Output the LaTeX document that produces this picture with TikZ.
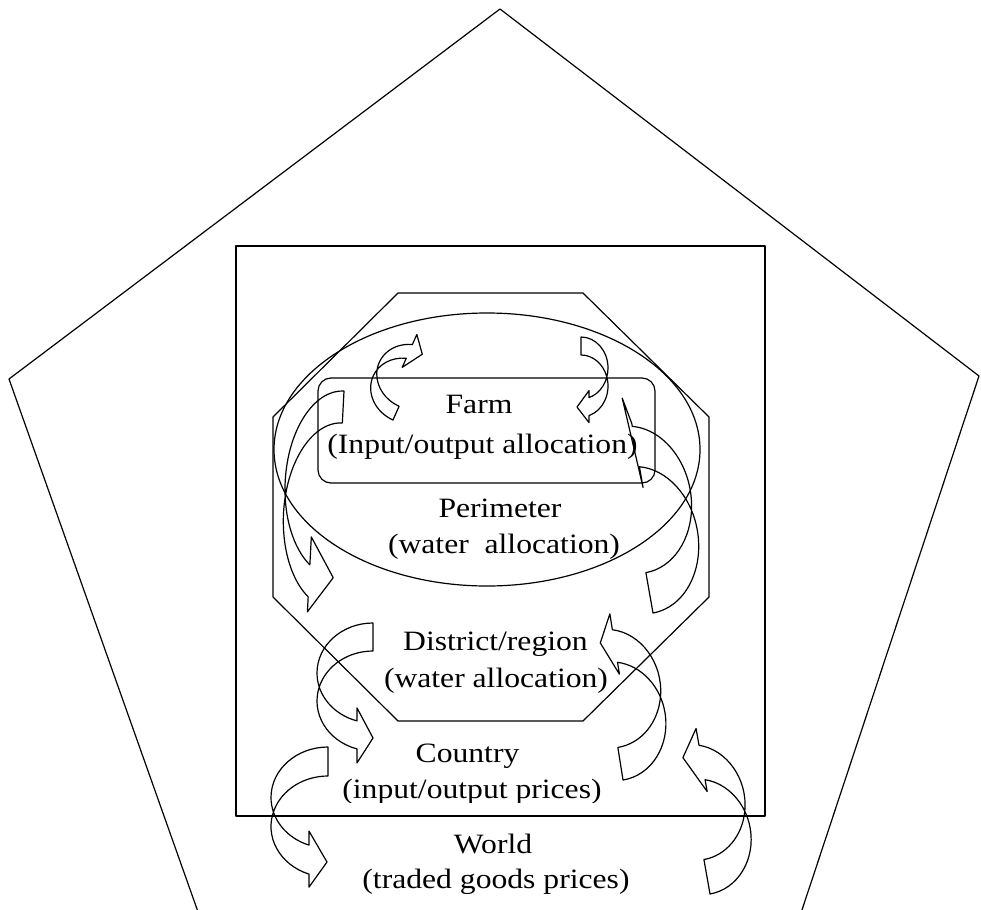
\documentclass[tikz,border=0pt]{standalone}
\usepackage{fontspec}
\setmainfont{Liberation Serif}[FakeStretch=1.13]
\usepackage{tikz}

%% curved block arrow: tail at (0,0), bulging to the left, head at the bottom
%% #1,#2 radii, #3 band, #4 head length, #5,#6 barbs, (#7,#8) tip
\newcommand{\bentarrow}[8]{%
  \pgfmathsetmacro\baend{acos(-#4/#1)-360}
  \pgfmathsetmacro\babase{#2+#2*sin(\baend)}
  \draw (0,0) arc[start angle=-90, end angle=\baend, x radius=#1, y radius=#2]
    -- ({-#4},{\babase-#5}) -- (#7,#8) -- ({-#4},{\babase+#3+#6})
    -- ({-#4},{\babase+#3})
    arc[start angle=\baend, end angle=-90, x radius=#1, y radius=#2] -- cycle;
}

\begin{document}
\begin{tikzpicture}[x=1pt, y=1pt, yscale=-1, line width=1.2pt, line join=round]
  \tikzset{lbl/.style={anchor=base, inner sep=0pt, font=\fontsize{28}{36}\selectfont}}

  \useasboundingbox (0,0) rectangle (981,909);
  \clip (0,0) rectangle (981,909);

  \draw (500,9) -- (9,379) -- (208,940) -- (792,940) -- (979,376) -- cycle; %% world
  \draw (236,246) rectangle (765,816); %% country
  \draw (398,293) -- (583,293) -- (709,417) -- (709,597) -- (583,721)
        -- (398,721) -- (273,597) -- (273,417) -- cycle; %% district
  \draw (487,449.5) ellipse[x radius=213, y radius=136.5]; %% perimeter
  \draw[rounded corners=13pt] (318,378) rectangle (655,483); %% farm

  \begin{scope}[shift={(393,420)}, rotate=24, yscale=-1]
    \bentarrow{36}{32}{15}{13}{10}{11}{0}{72} %% farm, left
  \end{scope}
  \begin{scope}[shift={(581,337)}, xscale=-1]
    \bentarrow{27}{31}{18}{8}{7}{7}{4}{70} %% farm, right
  \end{scope}
  \begin{scope}[shift={(344,391)}, rotate=3]
    \bentarrow{54}{93}{32}{25}{28}{15}{-1}{187} %% perimeter -> district
  \end{scope}
  \begin{scope}[shift={(653,613)}, rotate=170]
    \bentarrow{58}{74}{41}{12}{21}{3}{-7}{217} %% district -> perimeter
  \end{scope}
  \begin{scope}[shift={(373,623)}]
    \bentarrow{56}{50}{28}{16}{13}{14}{0}{115} %% district -> country
  \end{scope}
  \begin{scope}[shift={(623,780)}, rotate=171]
    \bentarrow{52}{59.5}{33}{13}{12}{16}{1}{139} %% country -> district
  \end{scope}
  \begin{scope}[shift={(328,747)}]
    \bentarrow{57}{50.5}{29}{19}{14}{13}{-1}{115} %% country -> world
  \end{scope}
  \begin{scope}[shift={(710,894)}, rotate=170]
    \bentarrow{51}{58}{35}{15}{12}{17}{3}{139} %% world -> country
  \end{scope}

  \node[lbl] (farm) at (479,413) {Farm};
  \node[lbl] (farmtask) at (482.5,453) {(Input/output allocation)};
  \node[lbl] (perim) at (500,517) {Perimeter};
  \node[lbl] (perimtask) at (504,553) {(water\ \ allocation)};
  \node[lbl] (district) at (495.5,650) {District/region};
  \node[lbl] (districttask) at (496,687) {(water allocation)};
  \node[lbl] (country) at (467.5,762) {Country};
  \begin{scope}
    \clip (0,0) rectangle (981,802);
    \node[lbl] (countrytask) at (472,798) {(input/output prices)};
  \end{scope}
  \node[lbl] (world) at (493,853) {World};
  \node[lbl] (worldtask) at (496,888) {(traded goods prices)};
\end{tikzpicture}
\end{document}
